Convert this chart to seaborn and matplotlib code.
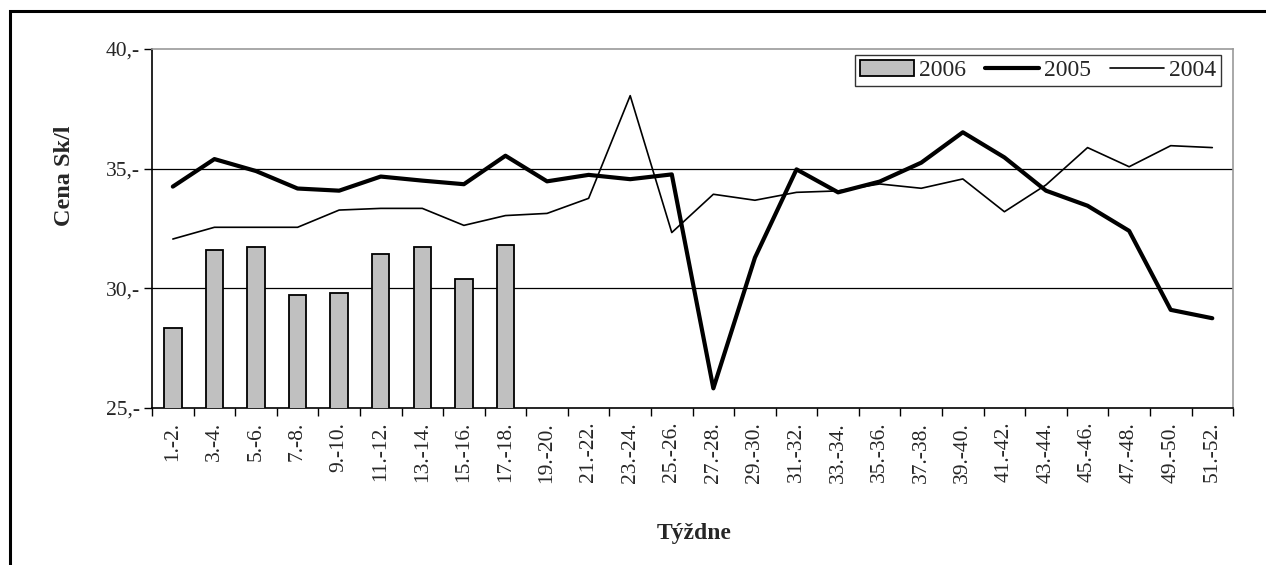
import numpy as np
import pandas as pd
import matplotlib
matplotlib.use("Agg")
import matplotlib.pyplot as plt
import matplotlib.patches as mpatches
from matplotlib.lines import Line2D
import seaborn as sns

# ── data ────────────────────────────────────────────────────
weeks = ["1.-2.", "3.-4.", "5.-6.", "7.-8.", "9.-10.", "11.-12.", "13.-14.",
         "15.-16.", "17.-18.", "19.-20.", "21.-22.", "23.-24.", "25.-26.",
         "27.-28.", "29.-30.", "31.-32.", "33.-34.", "35.-36.", "37.-38.",
         "39.-40.", "41.-42.", "43.-44.", "45.-46.", "47.-48.", "49.-50.",
         "51.-52."]

y2006 = [28.35, 31.59, 31.74, 29.72, 29.80, 31.42, 31.74, 30.38, 31.81]

y2005 = [34.25, 35.40, 34.90, 34.17, 34.08, 34.67, 34.50, 34.35, 35.54,
         34.47, 34.74, 34.56, 34.76, 25.82, 31.28, 34.97, 34.01, 34.46,
         35.25, 36.52, 35.47, 34.08, 33.45, 32.40, 29.10, 28.75]

y2004 = [32.06, 32.55, 32.55, 32.55, 33.27, 33.34, 33.34, 32.63, 33.04,
         33.13, 33.76, 38.05, 32.33, 33.93, 33.68, 34.01, 34.07, 34.36,
         34.18, 34.57, 33.20, 34.32, 35.88, 35.08, 35.96, 35.88]

y_ticks = [25, 30, 35, 40]
y_tick_labels = ["25,-", "30,-", "35,-", "40,-"]

# ── style ───────────────────────────────────────────────────
sns.set_theme(style="white")
plt.rcParams["font.family"] = ["Liberation Serif", "DejaVu Serif"]

fig = plt.figure(figsize=(12.66, 5.65), dpi=100)
ax = fig.add_axes([0.1201, 0.2779, 0.8539, 0.6354])

# outer frame (only left/top visible, image is cropped)
fig.patches.append(mpatches.Rectangle((10 / 1266, -0.05), 1.2, 1 - 11 / 565 + 0.05,
                                      transform=fig.transFigure, fill=False,
                                      edgecolor="black", linewidth=2.2, zorder=0))

df_bar = pd.DataFrame({"week": weeks[:len(y2006)], "val": y2006})
sns.barplot(data=df_bar, x="week", y="val", order=weeks, ax=ax,
            color="#c0c0c0", edgecolor="black", linewidth=1.3, width=0.42,
            saturation=1, zorder=3)

x = np.arange(len(weeks))
sns.lineplot(x=x, y=y2005, ax=ax, color="black", linewidth=3.0, zorder=4)
sns.lineplot(x=x, y=y2004, ax=ax, color="black", linewidth=1.2, zorder=4)

ax.set_xlim(-0.5, len(weeks) - 0.5)
ax.set_ylim(25, 40)
ax.set_yticks(y_ticks)
ax.set_yticklabels(y_tick_labels, fontsize=15.5)
ax.set_xticks(x)
ax.set_xticklabels(weeks, rotation=90, fontsize=15.5)
ax.tick_params(axis="x", length=0, pad=10)
ax.tick_params(axis="y", direction="out", length=6, width=1, color="black",
               left=True, pad=3)

# ticks between categories
ax.set_xticks(np.arange(len(weeks) + 1) - 0.5, minor=True)
ax.tick_params(axis="x", which="minor", direction="out", length=6, width=1,
               bottom=True, color="black")

for yv in [30, 35]:
    ax.axhline(yv, color="black", linewidth=0.9, zorder=1)

for side in ["top", "right"]:
    ax.spines[side].set_color("#999999")
    ax.spines[side].set_linewidth(1.2)
for side in ["left", "bottom"]:
    ax.spines[side].set_color("black")
    ax.spines[side].set_linewidth(1.2)

ax.set_xlabel("Týždne", fontsize=17, fontweight="bold")
ax.set_ylabel("Cena Sk/l", fontsize=17.5, fontweight="bold")
ax.xaxis.set_label_coords(0.501, -0.32)
ax.yaxis.set_label_coords(-0.071, 0.646)

handles = [
    mpatches.Patch(facecolor="#c0c0c0", edgecolor="black", linewidth=1.3),
    Line2D([0], [0], color="black", linewidth=3.0),
    Line2D([0], [0], color="black", linewidth=1.2),
]
leg = ax.legend(handles, ["2006", "2005", "2004"], ncol=3, loc="upper right",
                bbox_to_anchor=(0.9885, 0.983), fontsize=17, frameon=True,
                fancybox=False, edgecolor="black", handlelength=2.3,
                handletextpad=0.2, columnspacing=0.8, borderpad=0.2,
                borderaxespad=0.0)
leg.get_frame().set_linewidth(1.0)

plt.savefig("out.png", dpi=100, facecolor="white")
plt.close()
